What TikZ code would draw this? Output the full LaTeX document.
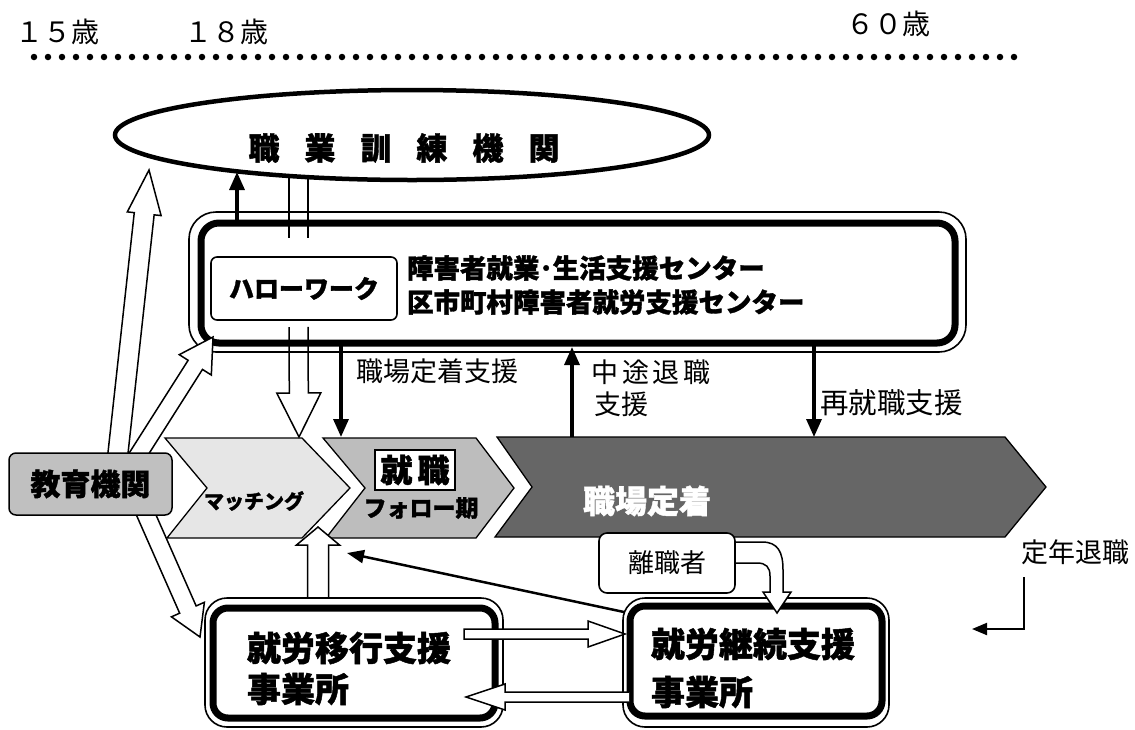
\documentclass[tikz,border=0pt]{standalone}
\usepackage{fontspec}
\setmainfont{Noto Sans CJK JP}[BoldFeatures={FakeBold=1.3}]
\usetikzlibrary{arrows.meta,calc,shapes.geometric}
\newcommand\myfs[1]{\fontsize{#1}{#1}\selectfont}
\definecolor{chA}{HTML}{E6E6E6}
\definecolor{chB}{HTML}{BDBDBD}
\definecolor{chC}{HTML}{666666}
\definecolor{edu}{HTML}{C0C0C0}
\tikzset{
  txt/.style={inner sep=0pt, outer sep=0pt},
  dotline/.style={line width=6.5pt, line cap=round, dash pattern=on 0pt off 14pt},
  chevron/.style={draw=black, line width=1.3pt, line join=miter},
  hollow/.style={draw=black, fill=white, line width=1.5pt, line join=miter},
  thickbd/.style={draw=black, line width=7pt, rounded corners=#1, inner sep=0pt},
  thickbd/.default=18pt,
  thinbd/.style={draw=black, line width=1.6pt, rounded corners=#1, inner sep=0pt},
  thinbd/.default=26pt,
  conn/.style={line width=3.3pt, -{Triangle[length=18pt,width=15pt]}},
}
% hollow block arrow: #1 start, #2 tip, #3 half shaft, #4 half head, #5 head length, #6 closing
\newcommand\harrow[6]{%
  \coordinate (haQ) at ($(#2)!#5!(#1)$);
  \draw[hollow] ($(#1)!#3!90:(#2)$) -- ($(haQ)!#3!90:(#2)$) -- ($(haQ)!#4!90:(#2)$) -- (#2)
    -- ($(haQ)!#4!-90:(#2)$) -- ($(haQ)!#3!-90:(#2)$) -- ($(#1)!#3!-90:(#2)$) #6;}
\begin{document}
\begin{tikzpicture}[x=1pt,y=-1pt]
\useasboundingbox (0,0) rectangle (1135,729);

% ages and dotted line
\node[txt, anchor=west, font=\myfs{28}] (age15) at (16,32) {１５歳};
\node[txt, anchor=west, font=\myfs{28}] (age18) at (184,32) {１８歳};
\node[txt, anchor=west, font=\myfs{28}] (age60) at (846,24) {６０歳};
\coordinate (dotL) at (34,57);
\coordinate (dotR) at (1028,57);
\draw[dotline] (dotL) -- (dotR);

% training institution
\node[ellipse, draw, line width=4.5pt, minimum width=594pt, minimum height=90pt, inner sep=0pt] (kunren) at (412,135) {};
\node[txt, font=\myfs{31}\bfseries] (kunrentxt) at (404,148) {職\hspace{25pt}業\hspace{25pt}訓\hspace{25pt}練\hspace{25pt}機\hspace{25pt}関};

% chevrons
\draw[chevron, fill=chA] (165,438) -- (302,438) -- (350,488) -- (302,538) -- (167,538) -- (207,488) -- cycle;
\draw[chevron, fill=chB] (323,438) -- (476,438) -- (514,488) -- (476,538) -- (326,538) -- (365,488) -- cycle;
\draw[chevron, fill=chC] (497,437) -- (1005,437) -- (1046,487) -- (1005,537) -- (495,537) -- (532,487) -- cycle;
\node[txt, font=\myfs{20}\bfseries] (match) at (254,501) {マッチング};
\node[draw, line width=1.2pt, fill=white, minimum width=80pt, minimum height=40pt, inner sep=0pt, font=\myfs{32}\bfseries] (shushoku) at (415,470) {就\hspace{5pt}職};
\node[txt, font=\myfs{23}\bfseries] (follow) at (421,508) {フォロー期};
\node[txt, font=\myfs{32}\bfseries, text=white] (teichaku) at (647,501) {職場定着};

% hollow arrow from training institution down to matching
\coordinate (hwL1) at (289,176);
\coordinate (hwL1e) at (289,238);
\coordinate (hwL2) at (308,177);
\coordinate (hwL2e) at (308,238);
\draw[line width=1.5pt] (hwL1) -- (hwL1e);
\draw[line width=1.5pt] (hwL2) -- (hwL2e);
\coordinate (hwA) at (298.5,327);
\coordinate (hwB) at (299,437);
\harrow{hwA}{hwB}{9.5pt}{22pt}{44pt}{}

% support center box
\node[thickbd=18pt, minimum width=754pt, minimum height=120pt] (bigbox) at (578,283) {};
\node[thinbd=27pt, minimum width=777pt, minimum height=140pt] (bigboxO) at (577.5,282) {};
\node[thinbd=6pt, fill=white, minimum width=186pt, minimum height=63pt, font=\myfs{25}\bfseries] (hw) at (304,288.5) {ハローワーク};
\node[txt, anchor=west, font=\myfs{26.5}\bfseries] (c1) at (407,268) {障害者就業･生活支援センター};
\node[txt, anchor=west, font=\myfs{26.5}\bfseries] (c2) at (407,302) {区市町村障害者就労支援センター};

% thick connectors
\coordinate (k1s) at (237,222);
\coordinate (k1e) at (237,172);
\draw[conn] (k1s) -- (k1e);
\coordinate (k2s) at (341,346);
\coordinate (k2e) at (341,437);
\draw[conn] (k2s) -- (k2e);
\coordinate (k3s) at (572,437);
\coordinate (k3e) at (572,347);
\draw[conn] (k3s) -- (k3e);
\coordinate (k4s) at (814,346);
\coordinate (k4e) at (814,437);
\draw[conn] (k4s) -- (k4e);
\node[txt, anchor=west, font=\myfs{27}] (l1) at (356,371) {職場定着支援};
\node[txt, anchor=west, font=\myfs{27}] (l2a) at (591,372) {中\hspace{4pt}途\hspace{4pt}退\hspace{4pt}職};
\node[txt, anchor=west, font=\myfs{27}] (l2b) at (594,404) {支援};
\node[txt, anchor=west, font=\myfs{28.5}] (l3) at (820,403) {再就職支援};

% arrows from education
\coordinate (e1a) at (117,462);
\coordinate (e1b) at (149,170);
\harrow{e1a}{e1b}{10pt}{17pt}{44pt}{}
\coordinate (e2a) at (131,466);
\coordinate (e2b) at (213,337);
\harrow{e2a}{e2b}{8.5pt}{19pt}{33pt}{}
\coordinate (e3a) at (144,510);
\coordinate (e3b) at (200,637);
\harrow{e3a}{e3b}{9pt}{18pt}{30pt}{}
\node[draw, line width=1.5pt, fill=edu, rounded corners=7pt, minimum width=163pt, minimum height=62pt, inner sep=0pt, font=\myfs{30}\bfseries] (edubox) at (90.5,484) {教育機関};

% up arrow from transition support
\coordinate (upA) at (318,614);
\coordinate (upB) at (318,527);
\harrow{upA}{upB}{10.5pt}{21.5pt}{18pt}{}

% bottom boxes
\node[thinbd=22pt, fill=white, minimum width=298pt, minimum height=129pt] (ikoO) at (354,662.5) {};
\node[thickbd=15pt, minimum width=282pt, minimum height=110pt] (iko) at (354,663) {};
\node[txt, anchor=west, font=\myfs{34}\bfseries] (ikot1) at (247,648) {就労移行支援};
\node[txt, anchor=west, font=\myfs{34}\bfseries] (ikot2) at (247,689) {事業所};
\node[thinbd=22pt, fill=white, minimum width=266pt, minimum height=129pt] (keiO) at (756,662.5) {};
\node[thickbd=15pt, minimum width=252pt, minimum height=110pt] (kei) at (756,661) {};
\node[txt, anchor=west, font=\myfs{34}\bfseries] (keit1) at (651,644) {就労継続支援};
\node[txt, anchor=west, font=\myfs{34}\bfseries] (keit2) at (651,692) {事業所};

% horizontal hollow arrows
\coordinate (rA) at (464,634);
\coordinate (rB) at (625,634);
\harrow{rA}{rB}{5pt}{13pt}{37pt}{-- cycle}
\coordinate (lA) at (629,697);
\coordinate (lB) at (466,697);
\harrow{lA}{lB}{5pt}{13pt}{39pt}{}

% thin arrow from continuation support
\coordinate (tA) at (624,612);
\coordinate (tB) at (347,553);
\draw[line width=2.5pt, -{Triangle[length=17pt,width=13pt]}] (tA) -- (tB);

% leavers and curved arrow
\draw[hollow] (735,542) -- (762,542) .. controls (778,542) and (783,552) .. (783,570) -- (783,592) -- (791,592) -- (777,613) -- (763,592) -- (770,592) -- (770,576) .. controls (770,567) and (766,563) .. (757,563) -- (735,563);
\node[thinbd=8pt, fill=white, minimum width=136pt, minimum height=60pt, font=\myfs{26}] (rishoku) at (667,563) {離職者};

% retirement
\node[txt, anchor=west, font=\myfs{27}] (teinen) at (1021,552) {定年退職};
\coordinate (tnA) at (1024,577);
\coordinate (tnB) at (972,629);
\draw[line width=2pt, -{Triangle[length=15pt,width=12pt]}] (tnA) -- (tnA |- tnB) -- (tnB);
\end{tikzpicture}
\end{document}
